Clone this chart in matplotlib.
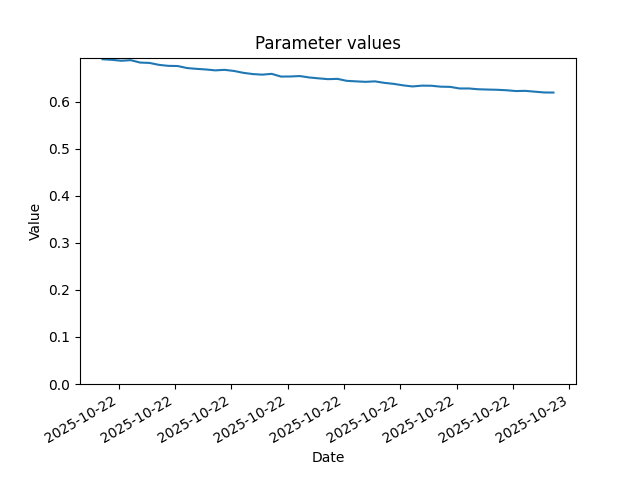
import pandas as pd
import matplotlib
matplotlib.use("Agg")
import matplotlib.pyplot as plt
import matplotlib.dates as mdates

# parameter samples, every 10 minutes
start_time = "2025-10-22 15:43"
n_points = 49
param_values = [
    0.6906, 0.6894, 0.6874, 0.6887, 0.6836, 0.6828, 0.6787, 0.6766, 0.6762, 0.6719,
    0.6702, 0.6689, 0.6670, 0.6681, 0.6657, 0.6617, 0.6591, 0.6579, 0.6596, 0.6538,
    0.6540, 0.6549, 0.6519, 0.6500, 0.6483, 0.6489, 0.6447, 0.6436, 0.6426, 0.6436,
    0.6404, 0.6383, 0.6351, 0.6328, 0.6345, 0.6343, 0.6323, 0.6319, 0.6285, 0.6285,
    0.6268, 0.6262, 0.6257, 0.6247, 0.6230, 0.6234, 0.6217, 0.6200, 0.6198,
]

dates = pd.date_range(start_time, periods=n_points, freq="10min")

fig, ax = plt.subplots(figsize=(6.4, 4.8), dpi=100)
ax.plot(dates, param_values)
ax.set_ylim(bottom=0)
ax.xaxis.set_major_formatter(mdates.DateFormatter("%Y-%m-%d"))
ax.set_title("Parameter values")
ax.set_xlabel("Date")
ax.set_ylabel("Value")
fig.autofmt_xdate()
fig.savefig("out.png")
